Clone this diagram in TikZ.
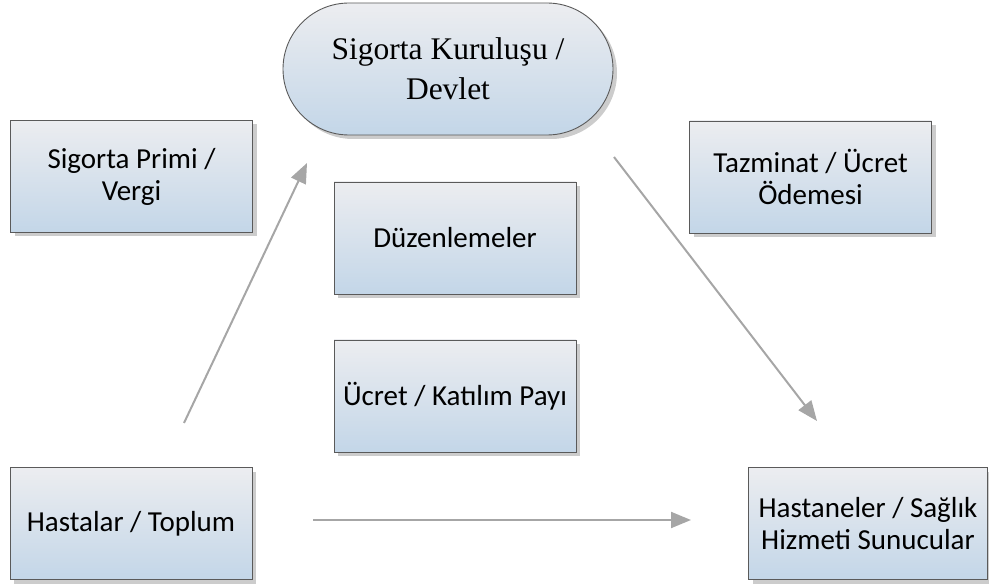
\documentclass[tikz,border=0pt]{standalone}
\usepackage{fontspec}
\setmainfont{Liberation Serif}
\newfontfamily\boxfont{Carlito}
\usetikzlibrary{arrows.meta,shapes.misc,shadows}
\definecolor{edgegray}{HTML}{5A5A5A}
\definecolor{topfill}{HTML}{ECEDF0}
\definecolor{botfill}{HTML}{C3D6E8}
\definecolor{arrowgray}{HTML}{A6A6A6}
\begin{document}
\begin{tikzpicture}[x=1pt,y=-1pt,
  boxstyle/.style={rectangle,draw=edgegray,line width=0.9pt,top color=topfill,bottom color=botfill,
    minimum width=242pt,minimum height=112pt,align=center,inner sep=0pt,
    font=\boxfont\fontsize{29}{32}\selectfont,
    drop shadow={shadow xshift=4pt,shadow yshift=-4pt,fill=black!20,opacity=1}},
  pillstyle/.style={rounded rectangle,draw=edgegray,line width=0.9pt,top color=topfill,bottom color=botfill,
    minimum width=330pt,minimum height=132pt,inner sep=0pt,align=center,
    font=\fontsize{31.5}{40}\selectfont,
    drop shadow={shadow xshift=4pt,shadow yshift=-4pt,fill=black!20,opacity=1}},
  flow/.style={draw=arrowgray,line width=2pt,-{Triangle[length=20pt,width=16pt]}}]
\useasboundingbox (0,0) rectangle (989,588);
\node[pillstyle] (state) at (448,69) {Sigorta Kuruluşu /\\Devlet};
\node[boxstyle] (prem) at (131.5,176.5) {Sigorta Primi /\\Vergi};
\node[boxstyle] (comp) at (810.5,177) {Tazminat / Ücret\\Ödemesi};
\node[boxstyle] (reg) at (455,238) {Düzenlemeler};
\node[boxstyle] (fee) at (455,396) {Ücret / Katılım Payı};
\node[boxstyle] (pat) at (131,523.5) {Hastalar / Toplum};
\node[boxstyle,minimum width=239pt] (hosp) at (868,523.5) {Hastaneler / Sağlık\\Hizmeti Sunucular};
\coordinate (a1s) at (184,423);
\coordinate (a1e) at (307,163);
\coordinate (a2s) at (614,157);
\coordinate (a2e) at (817,421);
\coordinate (a3s) at (313,520);
\coordinate (a3e) at (691,520);
\draw[flow] (a1s) -- (a1e);
\draw[flow] (a2s) -- (a2e);
\draw[flow] (a3s) -- (a3e);
\end{tikzpicture}
\end{document}
